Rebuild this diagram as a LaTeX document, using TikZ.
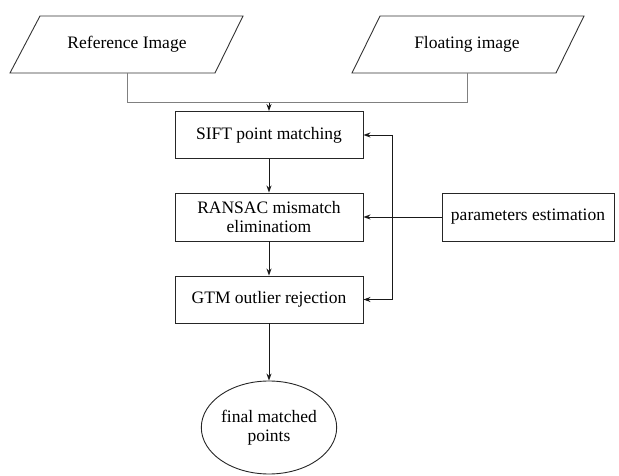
\documentclass[tikz,border=0pt]{standalone}
\usepackage{fontspec}
\setmainfont{Liberation Serif}
\usetikzlibrary{arrows.meta,shapes.geometric}
\begin{document}
\begin{tikzpicture}[x=1pt,y=-1pt,
  txt/.style={font=\fontsize{17.5}{19.5}\selectfont, align=center, inner sep=0pt},
  pbox/.style={draw=black!85, line width=0.9pt, rectangle, minimum width=188pt, minimum height=47pt, txt},
  link/.style={draw=black!90, line width=0.9pt, -{Stealth[length=7pt,width=5pt]}},
  glink/.style={draw=black!50, line width=1pt}]
\useasboundingbox (0,0) rectangle (619,476);
% parallelograms
\draw[line width=0.9pt, black!80] (40,16) -- (243,16) -- (215,73) -- (10,73) -- cycle;
\draw[line width=0.9pt, black!80] (380,16) -- (584,16) -- (556,73) -- (352,73) -- cycle;
\node[txt] (ref) at (127,44) {Reference Image};
\node[txt] (flo) at (467,44) {Floating image};
\coordinate (refb) at (127,73);
\coordinate (flob) at (467,73);
\coordinate (refc) at (127,103);
\coordinate (floc) at (467,103);
\coordinate (mid) at (269,103);
% boxes
\node[pbox] (sift) at (269,135) {SIFT point matching};
\node[pbox, minimum height=48pt] (ransac) at (269,217) {RANSAC mismatch\\eliminatiom};
\node[pbox] (gtm) at (269,299.5) {GTM outlier rejection};
\node[draw=black!85, line width=0.9pt, rectangle, minimum width=172pt, minimum height=48pt, txt] (param) at (528,217) {parameters estimation};
\node[draw=black!85, line width=0.9pt, ellipse, minimum width=120pt, minimum height=93pt, txt] (final) at (269,427.5) {final matched\\points};
% connectors
\draw[glink] (refb) -- (refc) -- (floc) -- (flob);
\draw[link] (mid) -- (sift.north);
\draw[link] (sift) -- (ransac);
\draw[link] (ransac) -- (gtm);
\draw[link] (gtm.south) -- (final.north);
\coordinate (fbt) at (392,135);
\coordinate (fbb) at (392,299.5);
\draw[line width=0.9pt, black!90] (fbt) -- (fbb);
\draw[link] (fbt) -- (sift.east);
\draw[link] (fbb) -- (gtm.east);
\draw[link] (param.west) -- (ransac.east);
\end{tikzpicture}
\end{document}
